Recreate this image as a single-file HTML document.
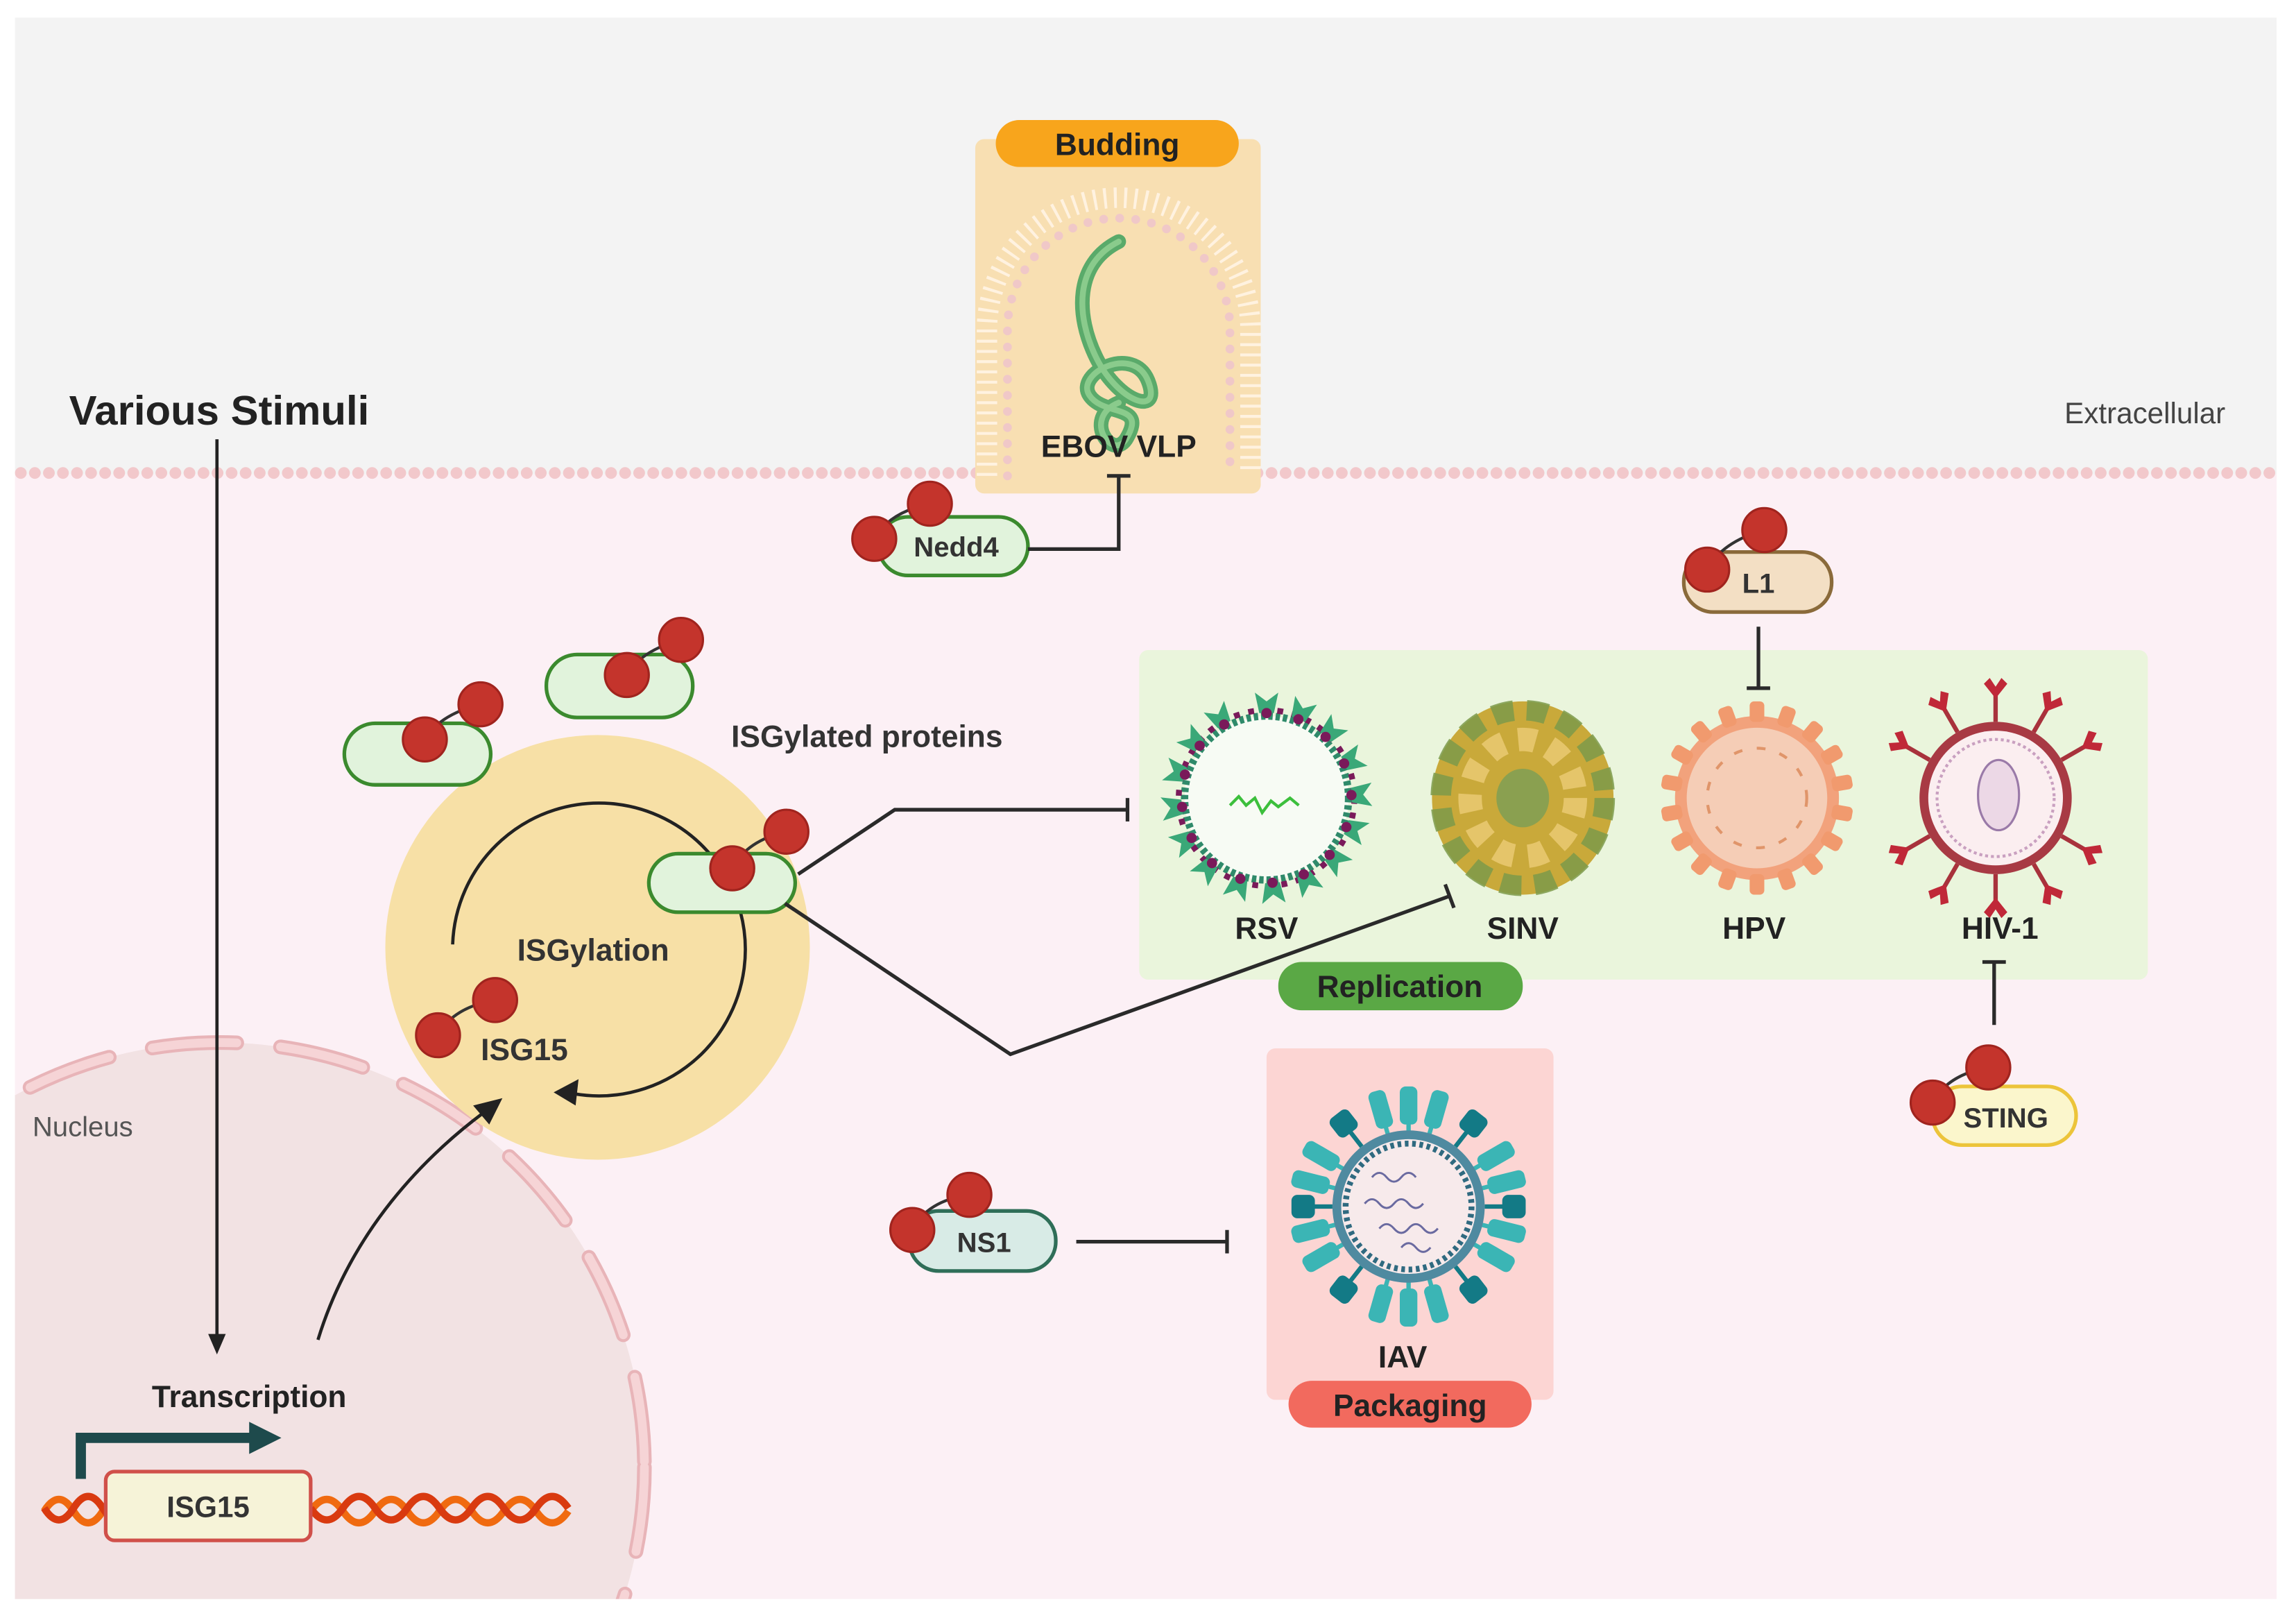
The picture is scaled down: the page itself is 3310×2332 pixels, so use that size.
<!DOCTYPE html>
<html><head><meta charset="utf-8"><style>
html,body{margin:0;padding:0;background:#fff;width:3310px;height:2332px;overflow:hidden;}
svg{display:block;}
text{font-family:"Liberation Sans",sans-serif;}
</style></head><body>
<svg width="3310" height="2332" viewBox="0 0 1568 1105" xmlns="http://www.w3.org/2000/svg">
<defs>
<clipPath id="inner"><rect x="10" y="12" width="1545" height="1080"/></clipPath>
<g id="iavspike"><rect x="-6" y="-82" width="12" height="26" rx="4" fill="#3bb5b5"/><rect x="-1.5" y="-58" width="3" height="8" fill="#3bb5b5"/></g>
<g id="iavna"><rect x="-8" y="-80" width="16" height="16" rx="4" fill="#137a86"/><rect x="-1.5" y="-66" width="3" height="14" fill="#137a86"/></g>
<g id="hpvspike"><rect x="-5" y="-66" width="10" height="14" rx="3" fill="#f19a6e"/></g>
<g id="hivspike"><line x1="0" y1="-52" x2="0" y2="-72" stroke="#a8323c" stroke-width="3"/><path d="M-8,-78 L0,-68 L8,-78 L4,-82 L0,-76 L-4,-82Z" fill="#c02838"/></g>
<g id="rsvspike"><path d="M-5,-58 L-8,-72 L0,-66 L8,-72 L5,-58Z" fill="#3aa878"/><circle cx="0" cy="-58" r="3.5" fill="#7a1a5a"/></g>
</defs>

<rect width="1568" height="1105" fill="#fff"/>
<g clip-path="url(#inner)">
<rect x="10" y="12" width="1545" height="312" fill="#f3f3f3"/>
<rect x="10" y="324" width="1545" height="770" fill="#fcf0f5"/>
<line x1="14" y1="323" x2="1555" y2="323" stroke="#f2c8cb" stroke-width="8" stroke-linecap="round" stroke-dasharray="0 9.6"/>
<circle cx="150" cy="1002" r="290" fill="#f2e2e3"/>
<circle cx="150" cy="1002" r="290" fill="none" stroke="#e8b4b8" stroke-width="10" stroke-linecap="round" stroke-dasharray="58 30"/>
<circle cx="150" cy="1002" r="290" fill="none" stroke="#f6d4d6" stroke-width="6" stroke-linecap="round" stroke-dasharray="58 30"/>
</g>

<text x="47" y="290" font-size="28" font-weight="bold" fill="#222" textLength="205" lengthAdjust="spacingAndGlyphs">Various Stimuli</text>
<text x="1410" y="289" font-size="20" fill="#444">Extracellular</text>
<text x="22" y="776" font-size="19" fill="#555">Nucleus</text>

<!-- Budding box -->
<rect x="666" y="95" width="195" height="242" rx="6" fill="#f8dfb2"/>
<g transform="translate(764,235)">
<path d="M-90,90 L-90,-10 A90 90 0 0 1 90,-10 L90,90" fill="none" stroke="#fff4e4" stroke-width="14" stroke-dasharray="2 5" opacity="0.9"/>
<path d="M-76,90 L-76,-10 A76 76 0 0 1 76,-10 L76,90" fill="none" stroke="#f0c8c8" stroke-width="6" stroke-linecap="round" stroke-dasharray="0 11"/>
<path d="M0,-70 C-30,-55 -30,-20 -15,10 C0,40 30,50 20,25 C10,0 -30,20 -20,35 C-10,50 20,40 5,65 C-5,80 -25,50 0,40" fill="none" stroke="#5aaa6a" stroke-width="10" stroke-linecap="round"/>
<path d="M0,-70 C-30,-55 -30,-20 -15,10 C0,40 30,50 20,25 C10,0 -30,20 -20,35 C-10,50 20,40 5,65 C-5,80 -25,50 0,40" fill="none" stroke="#8acb8c" stroke-width="4" stroke-linecap="round"/>
</g>
<rect x="680" y="82" width="166" height="32" rx="16" fill="#f8a51c"/>
<text x="763" y="106" font-size="21" font-weight="bold" text-anchor="middle" fill="#222">Budding</text>
<text x="764" y="312" font-size="21" font-weight="bold" text-anchor="middle" fill="#222">EBOV VLP</text>

<!-- Replication box -->
<rect x="778" y="444" width="689" height="225" rx="6" fill="#eaf5dc"/>
<rect x="873" y="657" width="167" height="33" rx="16" fill="#5aa845"/>
<text x="956" y="681" font-size="21" font-weight="bold" text-anchor="middle" fill="#222">Replication</text>

<!-- RSV -->
<g transform="translate(865,545)">
<circle r="56" fill="#f7fbf4" stroke="#2f8a6a" stroke-width="5" stroke-dasharray="3 2"/>
<circle r="60" fill="none" stroke="#7a1a5a" stroke-width="4" stroke-dasharray="4 6"/>
<use href="#rsvspike" transform="rotate(0)"/><use href="#rsvspike" transform="rotate(22)"/><use href="#rsvspike" transform="rotate(44)"/><use href="#rsvspike" transform="rotate(66)"/><use href="#rsvspike" transform="rotate(88)"/><use href="#rsvspike" transform="rotate(110)"/><use href="#rsvspike" transform="rotate(132)"/><use href="#rsvspike" transform="rotate(154)"/><use href="#rsvspike" transform="rotate(176)"/><use href="#rsvspike" transform="rotate(198)"/><use href="#rsvspike" transform="rotate(220)"/><use href="#rsvspike" transform="rotate(242)"/><use href="#rsvspike" transform="rotate(264)"/><use href="#rsvspike" transform="rotate(286)"/><use href="#rsvspike" transform="rotate(308)"/><use href="#rsvspike" transform="rotate(330)"/>
<path d="M-25,5 l6,-6 l5,6 l6,-5 l5,10 l6,-8 l5,4 l8,-6 l6,5" fill="none" stroke="#3cbf3c" stroke-width="2"/>
</g>
<text x="865" y="641" font-size="21" font-weight="bold" text-anchor="middle" fill="#222">RSV</text>

<!-- SINV -->
<g transform="translate(1040,545)">
<ellipse rx="62" ry="66" fill="#c9a93a"/>
<ellipse rx="56" ry="60" fill="none" stroke="#7d9a4a" stroke-width="14" stroke-dasharray="14 9" opacity="0.85"/>
<ellipse rx="36" ry="40" fill="none" stroke="#e8c870" stroke-width="16" stroke-dasharray="12 10" opacity="0.9"/>
<ellipse rx="18" ry="20" fill="#8aa050"/>
</g>
<text x="1040" y="641" font-size="21" font-weight="bold" text-anchor="middle" fill="#222">SINV</text>

<!-- HPV -->
<g transform="translate(1200,545)">
<circle r="56" fill="#f2a27c"/>
<use href="#hpvspike" transform="rotate(0)"/><use href="#hpvspike" transform="rotate(20)"/><use href="#hpvspike" transform="rotate(40)"/><use href="#hpvspike" transform="rotate(60)"/><use href="#hpvspike" transform="rotate(80)"/><use href="#hpvspike" transform="rotate(100)"/><use href="#hpvspike" transform="rotate(120)"/><use href="#hpvspike" transform="rotate(140)"/><use href="#hpvspike" transform="rotate(160)"/><use href="#hpvspike" transform="rotate(180)"/><use href="#hpvspike" transform="rotate(200)"/><use href="#hpvspike" transform="rotate(220)"/><use href="#hpvspike" transform="rotate(240)"/><use href="#hpvspike" transform="rotate(260)"/><use href="#hpvspike" transform="rotate(280)"/><use href="#hpvspike" transform="rotate(300)"/><use href="#hpvspike" transform="rotate(320)"/><use href="#hpvspike" transform="rotate(340)"/>
<circle r="48" fill="#f5cdb6"/>
<circle r="34" fill="none" stroke="#e0956a" stroke-width="2" stroke-dasharray="6 10"/>
</g>
<text x="1198" y="641" font-size="21" font-weight="bold" text-anchor="middle" fill="#222">HPV</text>

<!-- HIV -->
<g transform="translate(1363,545)">
<use href="#hivspike" transform="rotate(0)"/><use href="#hivspike" transform="rotate(60)"/><use href="#hivspike" transform="rotate(120)"/><use href="#hivspike" transform="rotate(180)"/><use href="#hivspike" transform="rotate(240)"/><use href="#hivspike" transform="rotate(300)"/><use href="#hivspike" transform="rotate(30)"/><use href="#hivspike" transform="rotate(150)"/><use href="#hivspike" transform="rotate(210)"/><use href="#hivspike" transform="rotate(330)"/>
<circle r="52" fill="#a83a44"/>
<circle r="46" fill="#fbeef0"/>
<circle r="40" fill="none" stroke="#c9a0c0" stroke-width="2" stroke-dasharray="2 2"/>
<ellipse cx="2" cy="-2" rx="14" ry="24" fill="#ecd8e6" stroke="#9a7aa8" stroke-width="1.5"/>
</g>
<text x="1366" y="641" font-size="21" font-weight="bold" text-anchor="middle" fill="#222">HIV-1</text>

<!-- Packaging box -->
<rect x="865" y="716" width="196" height="240" rx="6" fill="#fcd5d3"/>
<g transform="translate(962,824)">
<use href="#iavspike" transform="rotate(0)"/><use href="#iavspike" transform="rotate(16)"/><use href="#iavspike" transform="rotate(-16)"/><use href="#iavspike" transform="rotate(60)"/><use href="#iavspike" transform="rotate(76)"/><use href="#iavspike" transform="rotate(104)"/><use href="#iavspike" transform="rotate(120)"/><use href="#iavspike" transform="rotate(164)"/><use href="#iavspike" transform="rotate(180)"/><use href="#iavspike" transform="rotate(196)"/><use href="#iavspike" transform="rotate(240)"/><use href="#iavspike" transform="rotate(256)"/><use href="#iavspike" transform="rotate(284)"/><use href="#iavspike" transform="rotate(300)"/>
<use href="#iavna" transform="rotate(38)"/><use href="#iavna" transform="rotate(90)"/><use href="#iavna" transform="rotate(142)"/><use href="#iavna" transform="rotate(218)"/><use href="#iavna" transform="rotate(270)"/><use href="#iavna" transform="rotate(322)"/>
<circle r="52" fill="#4f8aa0"/>
<circle r="46" fill="#f7eaeb"/>
<circle r="43" fill="none" stroke="#2f6a80" stroke-width="4" stroke-dasharray="2.5 2.5"/>
<path d="M-25,-20 q5,-6 10,0 t10,0 t10,0 M-30,-2 q5,-6 10,0 t10,0 t10,0 t10,0 M-20,15 q5,-6 10,0 t10,0 t10,0 t10,0 M-5,28 q5,-6 10,0 t10,0" fill="none" stroke="#6a6aa0" stroke-width="1.4"/>
</g>
<text x="958" y="934" font-size="21" font-weight="bold" text-anchor="middle" fill="#222">IAV</text>
<rect x="880" y="943" width="166" height="32" rx="16" fill="#f26a5e"/>
<text x="963" y="967" font-size="21" font-weight="bold" text-anchor="middle" fill="#222">Packaging</text>

<!-- ISGylation -->
<circle cx="408" cy="647" r="145" fill="#f7e0a6"/>
<path d="M309,645 A100 100 0 1 1 392,747" fill="none" stroke="#222" stroke-width="2.2"/>
<path d="M378,746 L395,737 L393,755Z" fill="#222"/>
<text x="405" y="656" font-size="21" font-weight="bold" text-anchor="middle" fill="#333">ISGylation</text>
<text x="592" y="510" font-size="21" font-weight="bold" text-anchor="middle" fill="#333">ISGylated proteins</text>

<!-- stimuli arrow -->
<line x1="148" y1="300" x2="148" y2="912" stroke="#222" stroke-width="2.2"/>
<path d="M142,911 L154,911 L148,925Z" fill="#222"/>
<path d="M217,915 C240,840 290,790 330,760" fill="none" stroke="#222" stroke-width="2.2"/>
<path d="M343,750 L323,755 L334,768Z" fill="#222"/>

<!-- nucleus contents -->
<text x="170" y="961" font-size="21" font-weight="bold" text-anchor="middle" fill="#222">Transcription</text>
<g fill="none" stroke-width="5">
<path d="M30,1030 q10,-16 20,0 t20,0 t20,0 t20,0 M212,1030 q11,-16 22,0 t22,0 t22,0 t22,0 t22,0 t22,0 t22,0 t22,0" stroke="#f06a10" transform="translate(0,2)"/>
<path d="M30,1030 q10,16 20,0 t20,0 t20,0 t20,0 M212,1030 q11,16 22,0 t22,0 t22,0 t22,0 t22,0 t22,0 t22,0 t22,0" stroke="#d93a10"/>
</g>
<path d="M55,1010 L55,982 L172,982" fill="none" stroke="#1e4a4c" stroke-width="7"/>
<path d="M170,971 L192,982 L170,993Z" fill="#1e4a4c"/>
<rect x="72" y="1005" width="140" height="47" rx="6" fill="#f6f3d8" stroke="#d0504a" stroke-width="2.5"/>
<text x="142" y="1036" font-size="20" font-weight="bold" text-anchor="middle" fill="#333">ISG15</text>

<!-- proteins -->
<rect x="235" y="494" width="100" height="42" rx="21" fill="#e1f3dc" stroke="#3b8a2e" stroke-width="2.5"/>
<rect x="373" y="447" width="100" height="43" rx="21" fill="#e1f3dc" stroke="#3b8a2e" stroke-width="2.5"/>
<rect x="443" y="583" width="100" height="40" rx="20" fill="#e1f3dc" stroke="#3b8a2e" stroke-width="2.5"/>
<rect x="600" y="353" width="102" height="40" rx="20" fill="#e1f3dc" stroke="#3b8a2e" stroke-width="2.5"/>
<text x="653" y="380" font-size="19" font-weight="bold" text-anchor="middle" fill="#333">Nedd4</text>
<rect x="1150" y="377" width="101" height="41" rx="20" fill="#f3dfc4" stroke="#8a6a3a" stroke-width="2.5"/>
<text x="1201" y="405" font-size="19" font-weight="bold" text-anchor="middle" fill="#333">L1</text>
<rect x="1320" y="742" width="98" height="40" rx="20" fill="#fbf6cc" stroke="#ecc43a" stroke-width="2.5"/>
<text x="1370" y="770" font-size="19" font-weight="bold" text-anchor="middle" fill="#333">STING</text>
<rect x="621" y="827" width="100" height="41" rx="20" fill="#d8ebe6" stroke="#2f6e58" stroke-width="2.5"/>
<text x="672" y="855" font-size="19" font-weight="bold" text-anchor="middle" fill="#333">NS1</text>
<text x="358" y="724" font-size="21" font-weight="bold" text-anchor="middle" fill="#333">ISG15</text>

<g stroke="#333" stroke-width="2" fill="none">
<path d="M290,505 Q300,488 328,481"/><path d="M428,461 Q438,444 465,437"/><path d="M500,593 Q510,574 537,568"/>
<path d="M597,368 Q607,350 635,344"/><path d="M1166,389 Q1176,370 1205,362"/><path d="M1320,753 Q1330,734 1358,729"/><path d="M623,840 Q633,820 662,816"/><path d="M299,707 Q309,688 338,683"/>
</g>
<g fill="#c4342c" stroke="#a0241e" stroke-width="1.5">
<circle cx="290" cy="505" r="15"/><circle cx="328" cy="481" r="15"/>
<circle cx="428" cy="461" r="15"/><circle cx="465" cy="437" r="15"/>
<circle cx="500" cy="593" r="15"/><circle cx="537" cy="568" r="15"/>
<circle cx="597" cy="368" r="15"/><circle cx="635" cy="344" r="15"/>
<circle cx="1166" cy="389" r="15"/><circle cx="1205" cy="362" r="15"/>
<circle cx="1320" cy="753" r="15"/><circle cx="1358" cy="729" r="15"/>
<circle cx="623" cy="840" r="15"/><circle cx="662" cy="816" r="15"/>
<circle cx="299" cy="707" r="15"/><circle cx="338" cy="683" r="15"/>
</g>

<g stroke="#2a2a2a" stroke-width="2.5" fill="none">
<path d="M702,375 L764,375 L764,325"/><path d="M756,325 L772,325"/>
<path d="M1201,428 L1201,470"/><path d="M1193,470 L1209,470"/>
<path d="M1362,700 L1362,657"/><path d="M1354,657 L1370,657"/>
<path d="M735,848 L838,848"/><path d="M838,840 L838,856"/>
<path d="M545,597 L611,553 L770,553"/><path d="M770,545 L770,561"/>
<path d="M536,617 L690,720 L990,612"/><path d="M987,604 L993,620"/>
</g>
</svg>
</body></html>
